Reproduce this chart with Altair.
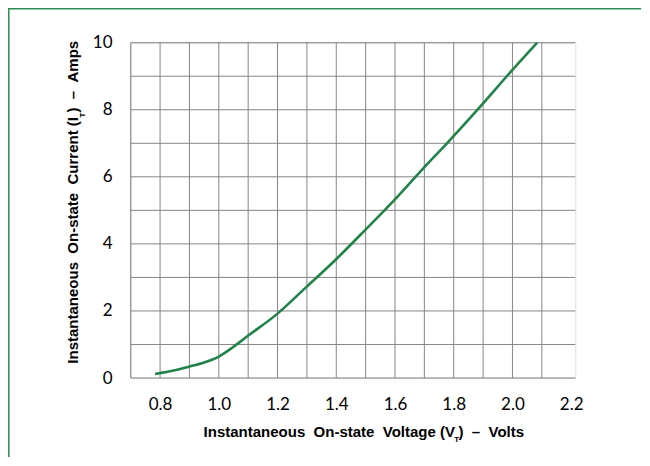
import altair as alt
import pandas as pd

# Curve: Instantaneous On-state Voltage (V) vs Current (A)
volts = [0.783, 0.85, 0.90, 0.95, 1.00, 1.05, 1.095, 1.20, 1.294, 1.397, 1.499, 1.60, 1.698, 1.777, 1.891, 2.00, 2.084]
amps  = [0.12, 0.23, 0.34, 0.46, 0.64, 0.93, 1.23, 1.92, 2.68, 3.52, 4.42, 5.33, 6.27, 7.00, 8.10, 9.19, 10.0]

x_grid = [0.7, 0.8, 0.9, 1.0, 1.1, 1.2, 1.3, 1.4, 1.5, 1.6, 1.7, 1.8, 1.9, 2.0, 2.1]
y_grid = [0, 1, 2, 3, 4, 5, 6, 7, 8, 9, 10]
x_ticks = [0.8, 1.0, 1.2, 1.4, 1.6, 1.8, 2.0, 2.2]
y_ticks = [0, 2, 4, 6, 8, 10]

W, H = 444.6, 335.3
PL, PT = 122.7, 34.7
GREEN = "#21834a"
GRID = "#858585"
TFONT = "Liberation Sans, Arial"
NB = "\u00a0"

xs = alt.Scale(domain=[0.7, 2.214], nice=False, zero=False)
ys = alt.Scale(domain=[0, 10], nice=False, zero=False)

x_axis = alt.Axis(values=x_ticks, format=".1f", title=None, grid=False,
                  domain=False, ticks=False, tickSize=0, labelPadding=18,
                  labelFont="Lato", labelFontSize=17, labelColor="#000000")
y_axis = alt.Axis(values=y_ticks, format="d", title=None, grid=False,
                  domain=False, ticks=False, tickSize=0, labelPadding=18.7,
                  labelFont="Lato", labelFontSize=17, labelColor="#000000")

curve = pd.DataFrame({"v": volts, "i": amps})

vgrid = alt.Chart(pd.DataFrame({"g": x_grid})).mark_rule(color=GRID, strokeWidth=1).encode(
    x=alt.X("g:Q", scale=xs, axis=x_axis)
)
hgrid = alt.Chart(pd.DataFrame({"g": y_grid})).mark_rule(color=GRID, strokeWidth=1).encode(
    y=alt.Y("g:Q", scale=ys, axis=y_axis)
)

line = alt.Chart(curve).mark_line(color=GREEN, strokeWidth=2.6, interpolate="monotone").encode(
    x=alt.X("v:Q", scale=xs, axis=x_axis),
    y=alt.Y("i:Q", scale=ys, axis=y_axis),
)

def txt(s, x, y, size, align, angle=0, weight="bold"):
    return alt.Chart(pd.DataFrame({"t": [s]})).mark_text(
        font=TFONT, fontSize=size, fontWeight=weight, align=align, baseline="alphabetic",
        angle=angle, color="#000000"
    ).encode(text="t:N", x=alt.value(x), y=alt.value(y))

gap = NB * 2
# x-axis title pieces (V with subscript T)
xt1 = txt(f"Instantaneous{gap}On-state{gap}Voltage (V", 324.3, 394.3, 15, "right")
xt2 = txt("T", 325.9, 399.0, 8, "center")
xt3 = txt(f"){gap}–{gap}Volts", 327.8, 394.3, 15, "left")
# y-axis title pieces (I with subscript T)
yt1 = txt(f"Instantaneous{gap}On-state{gap}Current (I", -52.7, 74.3, 15, "right", angle=270)
yt2 = txt("T", -45.8, 72.3, 8, "center", angle=270)
yt3 = txt(f"){gap}–{gap}Amps", -52.7, 69.8, 15, "left", angle=270)

frame = alt.Chart(pd.DataFrame({"a": [0]})).mark_rect(
    fill=None, stroke="#2e8b57", strokeWidth=1.5
).encode(x=alt.value(-PL + 0.8), y=alt.value(-PT + 0.8), x2=alt.value(700), y2=alt.value(600))

chart = alt.layer(frame, vgrid, hgrid, line, xt1, xt2, xt3, yt1, yt2, yt3).properties(
    width=W, height=H,
    autosize=alt.AutoSizeParams(type="none"),
    padding={"left": PL, "top": PT, "right": 633 - PL - W, "bottom": 449 - PT - H},
).configure_view(stroke=GRID, strokeWidth=1).configure(background="white")

chart.save("out.html", embed_options={"renderer": "svg", "actions": False})
